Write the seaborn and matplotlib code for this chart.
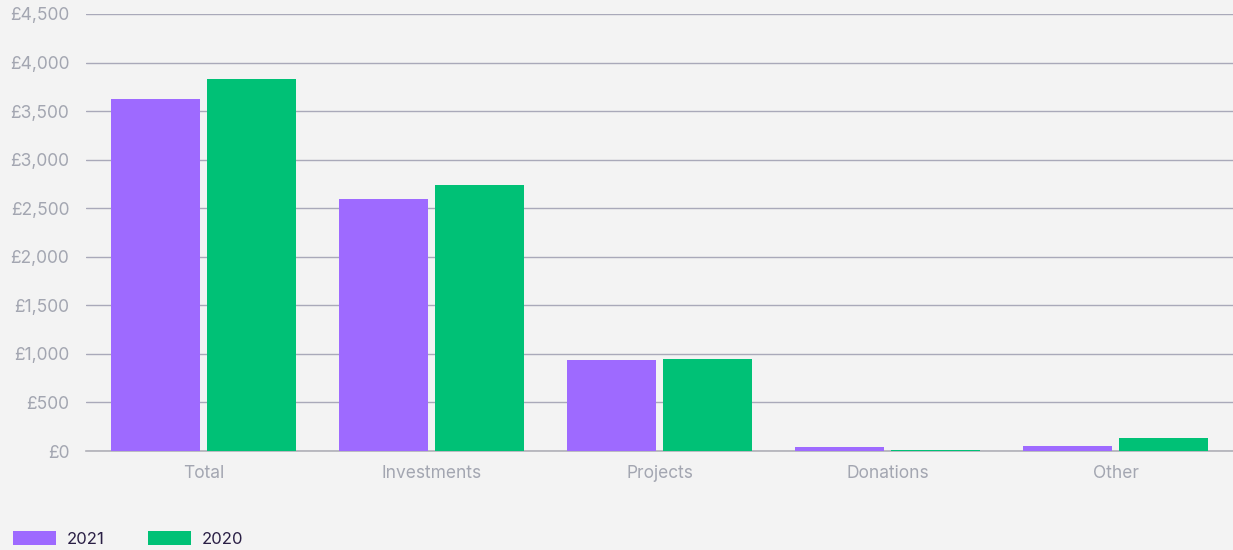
import matplotlib
matplotlib.use("Agg")
import matplotlib.pyplot as plt
import matplotlib.ticker as mticker
from matplotlib.patches import Patch
import seaborn as sns
import pandas as pd

categories = ["Total", "Investments", "Projects", "Donations", "Other"]
years = ["2021", "2020"]
values_2021 = [3625, 2595, 937, 40, 50]
values_2020 = [3830, 2739, 947, 14, 134]
colors = {"2021": "#9e6aff", "2020": "#00c176"}

df = pd.DataFrame({
    "category": categories * 2,
    "year": ["2021"] * len(categories) + ["2020"] * len(categories),
    "value": values_2021 + values_2020,
})

sns.set_theme(style="white")
plt.rcParams['font.family'] = ['Inter', 'DejaVu Sans']
bg = "#f3f3f3"
fig = plt.figure(figsize=(12.33, 5.5), dpi=100, facecolor=bg)
ax = fig.add_axes([86 / 1233, 1 - 451 / 550, 1 - 86 / 1233, 437 / 550])
ax.set_facecolor(bg)

sns.barplot(data=df, x="category", y="value", hue="year", hue_order=years,
            palette=colors, width=0.842, gap=0.073, saturation=1, ax=ax,
            legend=False, errorbar=None, linewidth=0, zorder=3)

ax.set_ylim(0, 4500)
ax.set_xlim(-0.515, 4.515)
ax.yaxis.set_major_locator(mticker.MultipleLocator(500))
ax.yaxis.set_major_formatter(mticker.FuncFormatter(lambda v, p: f"£{int(v):,}"))
ax.grid(axis="y", color="#a9a9b9", linewidth=1, zorder=0)
ax.set_axisbelow(True)
for s in ["top", "right", "left"]:
    ax.spines[s].set_visible(False)
ax.spines["bottom"].set_color("#b0b0b8")
ax.spines["bottom"].set_linewidth(1.2)
ax.spines["bottom"].set_zorder(2)
ax.tick_params(axis="y", length=0, pad=12, labelsize=12.5, labelcolor="#a3a6b1")
ax.tick_params(axis="x", length=0, pad=10, labelsize=12.5, labelcolor="#a3a6b1")
ax.set_xlabel("")
ax.set_ylabel("")

handles = [Patch(facecolor=colors[y], edgecolor="none", label=y) for y in years]
leg = fig.legend(handles=handles, loc="lower left", bbox_to_anchor=(-0.002, -0.022),
                 ncol=2, frameon=False, fontsize=12, handlelength=2.6,
                 handleheight=0.9, handletextpad=0.65, columnspacing=2.6)
for t in leg.get_texts():
    t.set_color("#2a1f45")

fig.savefig("out.png", dpi=100, facecolor=bg)
